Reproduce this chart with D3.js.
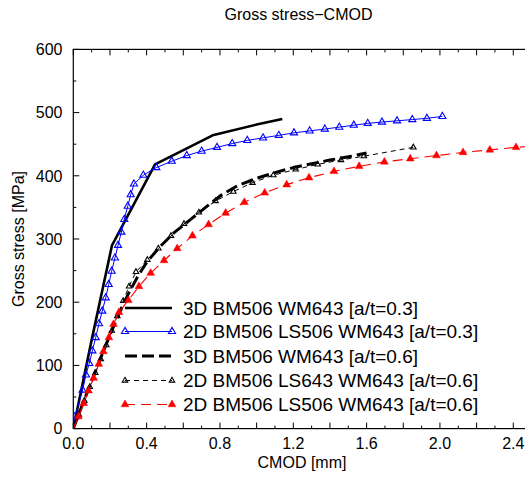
<!DOCTYPE html>
<html>
<head>
    <title>Gross stress-CMOD</title>
    <script src="https://d3js.org/d3.v7.min.js"></script>
    <style>
        body { margin: 0; background: #fff; }
        svg { display: block; font-family: "Liberation Sans", Arial, sans-serif; }
    </style>
</head>
<body>
    <svg id="chart"></svg>
    <script>
        // values: CMOD [mm] and gross stress [MPa]
        const cmod3d03 = [0, 0.10, 0.211, 0.446, 0.76, 1.00, 1.14];
        const stress3d03 = [0, 140, 290, 418, 464, 481, 490];

        const cmod2d03 = [0, 0.009, 0.051, 0.069, 0.087, 0.104, 0.122, 0.140, 0.158, 0.177, 0.193, 0.209, 0.227, 0.244, 0.262, 0.278, 0.297, 0.313, 0.331, 0.382, 0.453, 0.537, 0.619, 0.700, 0.784, 0.867, 0.949, 1.035, 1.121, 1.204, 1.289, 1.372, 1.451, 1.530, 1.606, 1.684, 1.766, 1.849, 1.929, 2.013];
        const stress2d03 = [0, 19, 61, 85, 103, 123, 144, 166, 186, 207, 228, 249, 270, 290, 311, 331, 352, 370, 387, 401, 413, 423, 432, 439, 445, 451, 456, 460, 464, 468, 471, 474, 477, 480, 483, 485, 487, 489, 491, 494];

        const cmod3d06 = [0, 0.05, 0.10, 0.15, 0.20, 0.25, 0.30, 0.35, 0.40, 0.47, 0.55, 0.64, 0.73, 0.81, 0.90, 1.00, 1.10, 1.20, 1.30, 1.40, 1.50, 1.60];
        const stress3d06 = [0, 38, 75, 112, 148, 182, 213, 240, 263, 287, 310, 331, 352, 370, 385, 396, 405, 413, 419, 425, 430, 436];

        const cmod2d06a = [0, 0.03, 0.06, 0.09, 0.12, 0.15, 0.18, 0.21, 0.24, 0.272, 0.304, 0.342, 0.404, 0.464, 0.533, 0.604, 0.685, 0.776, 0.873, 0.977, 1.091, 1.213, 1.333, 1.46, 1.585, 1.855];
        const stress2d06a = [0, 22, 44, 66, 88, 110, 132, 155, 178, 202, 225, 248, 267, 285, 305, 324, 342, 360, 375, 389, 401, 410, 418, 425, 431, 445];

        const cmod2d06b = [0, 0.028, 0.057, 0.083, 0.111, 0.139, 0.164, 0.194, 0.219, 0.249, 0.300, 0.358, 0.422, 0.495, 0.567, 0.650, 0.738, 0.831, 0.933, 1.044, 1.164, 1.286, 1.422, 1.559, 1.697, 1.838, 1.981, 2.126, 2.272, 2.415, 2.56];
        const stress2d06b = [0, 19, 40, 60, 80, 102, 122, 144, 165, 184, 203, 225, 246, 266, 285, 305, 323, 341, 358, 373, 386, 397, 407, 415, 422, 427, 432, 437, 441, 445, 448];

        const xTicks = [0, 0.4, 0.8, 1.2, 1.6, 2.0, 2.4];
        const yTicks = [0, 100, 200, 300, 400, 500, 600];

        const seriesNames = [
            "3D BM506 WM643 [a/t=0.3]",
            "2D BM506 LS506 WM643 [a/t=0.3]",
            "3D BM506 WM643 [a/t=0.6]",
            "2D BM506 LS643 WM643 [a/t=0.6]",
            "2D BM506 LS506 WM643 [a/t=0.6]"
        ];

        const width = 525;
        const height = 478;

        const svg = d3.select("#chart")
            .attr("width", width)
            .attr("height", height);

        const x = d3.scaleLinear().domain([0, 2.5]).range([73.3, 531.6]);
        const y = d3.scaleLinear().domain([0, 600]).range([428.6, 49.4]);

        // line style per series (same order as the legend)
        const styles = [
            { color: "#000", width: 2.6, dash: null, marker: null },
            { color: "#0000ff", width: 1, dash: null, marker: "open", size: 22 },
            { color: "#000", width: 3, dash: "12,5", marker: null },
            { color: "#000", width: 1, dash: "5,4", marker: "open", size: 13 },
            { color: "#ff0000", width: 1.1, dash: "10,6", marker: "filled", size: 26 }
        ];

        const series = [
            d3.zip(cmod3d03, stress3d03),
            d3.zip(cmod2d03, stress2d03),
            d3.zip(cmod3d06, stress3d06),
            d3.zip(cmod2d06a, stress2d06a),
            d3.zip(cmod2d06b, stress2d06b)
        ];

        svg.append("clipPath").attr("id", "plotclip")
            .append("rect")
            .attr("x", x(0)).attr("y", y(600))
            .attr("width", x(2.5) - x(0)).attr("height", y(0) - y(600));

        // ticks (inward, mirrored on top)
        const axes = svg.append("g").attr("stroke", "#000").attr("stroke-width", 1);
        d3.range(0, 2.51, 0.1).forEach((v, i) => {
            const len = i % 2 === 0 ? 6 : 3;
            axes.append("line").attr("x1", x(v)).attr("x2", x(v)).attr("y1", y(0)).attr("y2", y(0) - len);
            axes.append("line").attr("x1", x(v)).attr("x2", x(v)).attr("y1", y(600)).attr("y2", y(600) + len);
        });
        d3.range(0, 601, 50).forEach((v, i) => {
            const len = i % 2 === 0 ? 6 : 3;
            axes.append("line").attr("x1", x(0)).attr("x2", x(0) + len).attr("y1", y(v)).attr("y2", y(v));
        });

        svg.append("rect")
            .attr("x", x(0)).attr("y", y(600))
            .attr("width", x(2.5) - x(0)).attr("height", y(0) - y(600))
            .attr("fill", "none").attr("stroke", "#000").attr("stroke-width", 1.2);

        // tick labels
        svg.append("g").selectAll("text")
            .data(xTicks)
            .join("text")
            .attr("x", d => x(d))
            .attr("y", 448.5)
            .attr("text-anchor", "middle")
            .attr("font-size", 16)
            .text(d => d3.format(".1f")(d));

        svg.append("g").selectAll("text")
            .data(yTicks)
            .join("text")
            .attr("x", 62.5)
            .attr("y", d => y(d))
            .attr("dy", "0.36em")
            .attr("text-anchor", "end")
            .attr("font-size", 16)
            .text(d => d);

        svg.append("text")
            .attr("x", 298.5).attr("y", 19.5)
            .attr("text-anchor", "middle")
            .attr("font-size", 16)
            .text("Gross stress\u2212CMOD");

        svg.append("text")
            .attr("x", 302).attr("y", 468)
            .attr("text-anchor", "middle")
            .attr("font-size", 16)
            .text("CMOD [mm]");

        svg.append("text")
            .attr("transform", "translate(24,239) rotate(-90)")
            .attr("text-anchor", "middle")
            .attr("font-size", 16)
            .text("Gross stress [MPa]");

        const line = d3.line().x(d => x(d[0])).y(d => y(d[1]));

        function drawMarkers(g, pts, st) {
            const sym = d3.symbol(d3.symbolTriangle, st.size);
            g.selectAll("path.mk")
                .data(pts)
                .join("path")
                .attr("class", "mk")
                .attr("transform", d => `translate(${d[0]},${d[1]})`)
                .attr("d", sym)
                .attr("fill", st.marker === "filled" ? st.color : "none")
                .attr("stroke", st.color)
                .attr("stroke-width", st.marker === "filled" ? 0.5 : 1.1);
        }

        const plot = svg.append("g").attr("clip-path", "url(#plotclip)");
        series.forEach((data, i) => {
            const st = styles[i];
            const g = plot.append("g");
            g.append("path")
                .attr("d", line(data))
                .attr("fill", "none")
                .attr("stroke", st.color)
                .attr("stroke-width", st.width)
                .attr("stroke-dasharray", st.dash)
                .attr("stroke-linejoin", "round");
            if (st.marker) drawMarkers(g, data.slice(1).map(d => [x(d[0]), y(d[1])]), st);
        });

        // legend
        const legendY = [308, 331.5, 356, 380.5, 404.5];
        const legend = svg.append("g");
        seriesNames.forEach((name, i) => {
            const st = styles[i];
            const g = legend.append("g");
            g.append("line")
                .attr("x1", 125).attr("x2", 172)
                .attr("y1", legendY[i]).attr("y2", legendY[i])
                .attr("stroke", st.color)
                .attr("stroke-width", st.width)
                .attr("stroke-dasharray", st.dash);
            if (st.marker) drawMarkers(g, [[125, legendY[i]], [172, legendY[i]]], st);
            g.append("text")
                .attr("x", 183).attr("y", legendY[i])
                .attr("dy", "0.36em")
                .attr("font-size", 19)
                .text(name);
        });
    </script>
</body>
</html>
